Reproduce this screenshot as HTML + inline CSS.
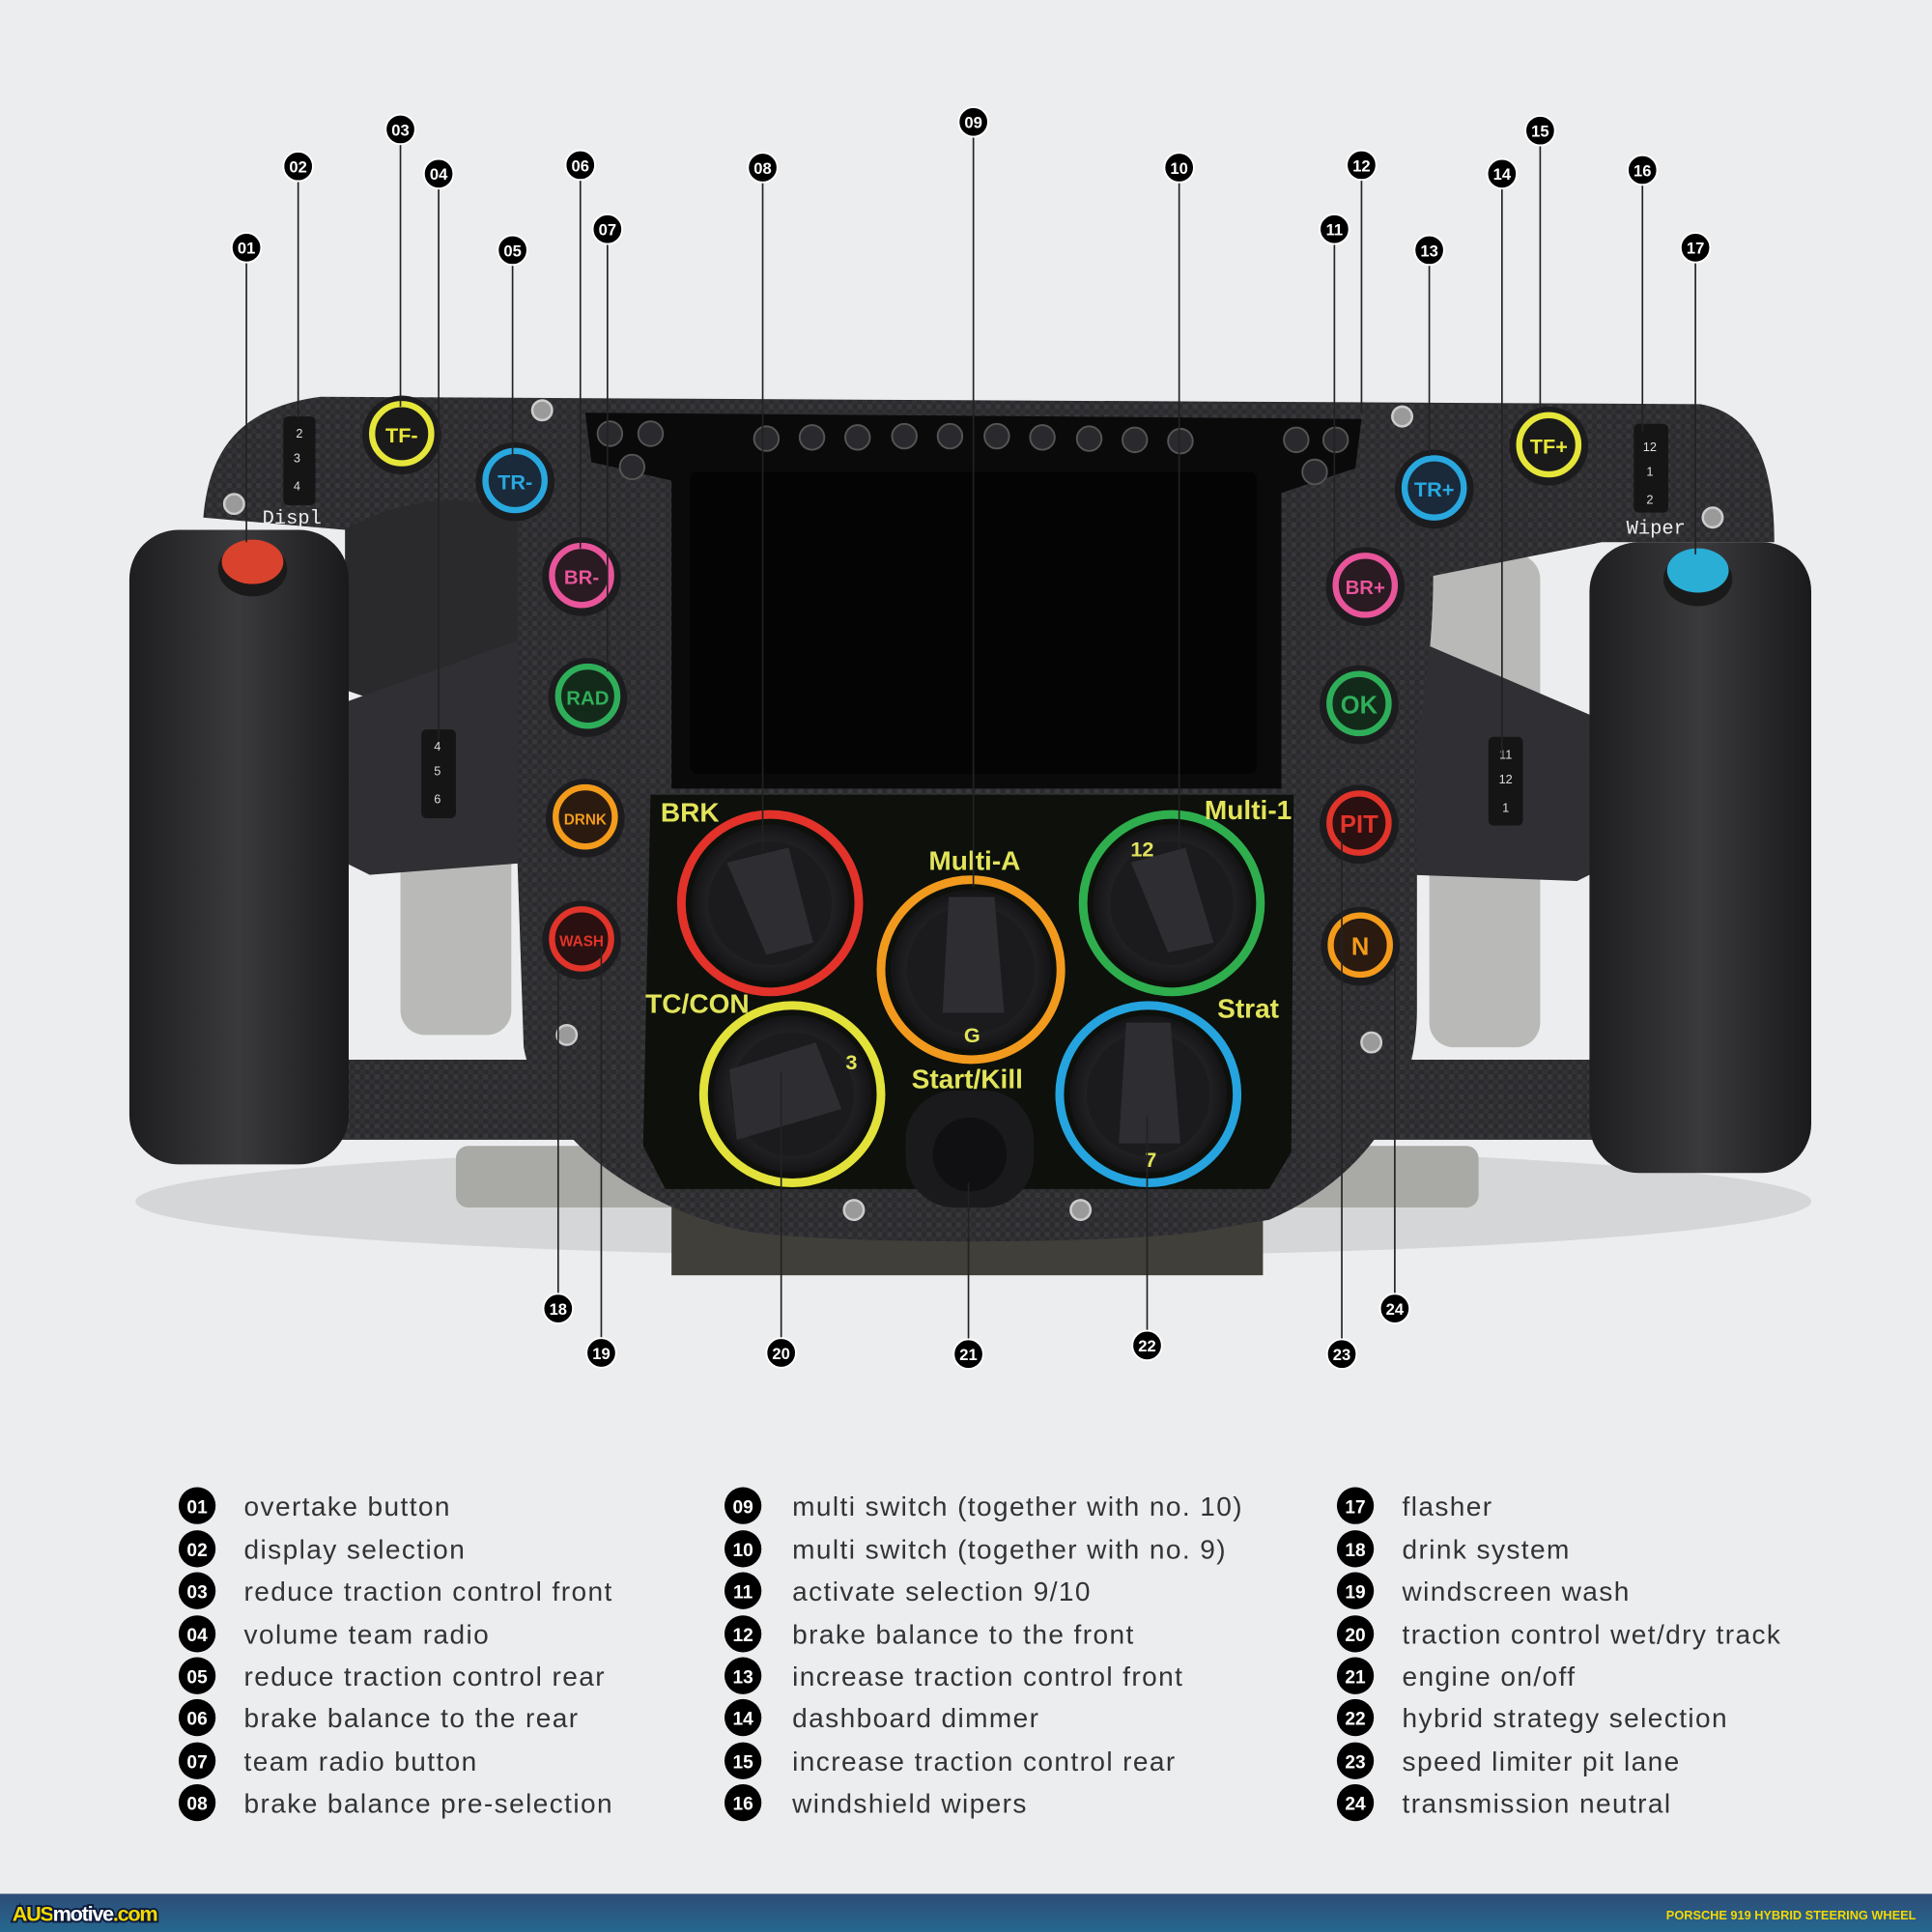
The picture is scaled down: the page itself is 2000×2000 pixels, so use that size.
<!DOCTYPE html>
<html><head><meta charset="utf-8"><style>
html,body{margin:0;padding:0;background:#ecedef}
svg{display:block}
</style></head><body>
<svg width="2000" height="2000" viewBox="0 0 1568 1568" xmlns="http://www.w3.org/2000/svg" font-family="'Liberation Sans', sans-serif">
<defs>
<pattern id="cf" width="8" height="8" patternUnits="userSpaceOnUse">
<rect width="8" height="8" fill="#2b2b2e"/><rect width="4" height="4" fill="#38383c"/><rect x="4" y="4" width="4" height="4" fill="#323236"/>
</pattern>
<linearGradient id="grip" x1="0" x2="1"><stop offset="0" stop-color="#1e1e20"/><stop offset="0.5" stop-color="#3a3a3d"/><stop offset="1" stop-color="#1a1a1c"/></linearGradient>
<linearGradient id="bar" x1="0" y1="0" x2="0" y2="1"><stop offset="0" stop-color="#2d4c77"/><stop offset="1" stop-color="#26688f"/></linearGradient>
<radialGradient id="knob"><stop offset="0" stop-color="#303034"/><stop offset="0.8" stop-color="#202023"/><stop offset="1" stop-color="#141416"/></radialGradient>
</defs>
<rect width="1568" height="1568" fill="#ecedef"/>
<ellipse cx="790" cy="975" rx="680" ry="45" fill="#d5d6d8"/>
<rect x="325" y="440" width="90" height="400" rx="20" fill="#b9bab7"/>
<rect x="1160" y="450" width="90" height="400" rx="20" fill="#b9bab7"/>
<rect x="370" y="930" width="830" height="50" rx="10" fill="#a9aaa5"/>
<rect x="545" y="960" width="480" height="75" fill="#403f3a"/>
<path d="M165,420 C170,360 200,330 260,322 L1380,328 C1420,335 1440,370 1440,440 L1300,440 L1150,470 L430,470 L280,430 Z" fill="url(#cf)"/>
<path d="M280,430 C330,400 420,390 440,450 L440,560 L310,570 L280,560 Z" fill="#2a2a2d"/>
<path d="M280,570 L420,520 L430,700 L300,710 L280,700 Z" fill="#303034"/>
<path d="M1290,580 L1150,520 L1145,710 L1280,715 L1300,705 Z" fill="#303034"/>
<path d="M270,860 L1300,860 L1300,925 L270,925 Z" fill="url(#cf)"/>
<path d="M420,340 L1150,345 C1165,400 1170,500 1150,600 L1150,820 C1150,900 1100,960 1030,990 L970,1000 C900,1010 680,1010 610,1000 C530,985 440,930 425,850 L420,700 Z" fill="url(#cf)"/>
<path d="M475,335 L1105,340 L1100,380 L1040,400 L1040,640 L545,640 L545,390 L480,375 Z" fill="#0a0a0b"/>
<rect x="560" y="383" width="460" height="245" rx="6" fill="#040404"/>
<g fill="#2a2a2e" stroke="#555" stroke-width="1.5">
<circle cx="495" cy="352" r="10"/><circle cx="528" cy="352" r="10"/><circle cx="513" cy="379" r="10"/>
<circle cx="622" cy="356" r="10"/><circle cx="659" cy="355" r="10"/><circle cx="696" cy="355" r="10"/><circle cx="734" cy="354" r="10"/><circle cx="771" cy="354" r="10"/><circle cx="809" cy="354" r="10"/><circle cx="846" cy="355" r="10"/><circle cx="884" cy="356" r="10"/><circle cx="921" cy="357" r="10"/><circle cx="958" cy="358" r="10"/>
<circle cx="1052" cy="357" r="10"/><circle cx="1084" cy="357" r="10"/><circle cx="1067" cy="383" r="10"/>
</g>
<path d="M528,645 L1050,645 L1048,935 L1030,965 L540,965 L522,930 Z" fill="#0d100b"/>
<rect x="105" y="430" width="178" height="515" rx="40" fill="url(#grip)"/>
<rect x="1290" y="440" width="180" height="512" rx="40" fill="url(#grip)"/>
<ellipse cx="205" cy="462" rx="28" ry="22" fill="#1a1a1a"/>
<ellipse cx="205" cy="456" rx="25" ry="18" fill="#d9422c"/>
<ellipse cx="1378" cy="470" rx="28" ry="22" fill="#1a1a1a"/>
<ellipse cx="1378" cy="463" rx="25" ry="18" fill="#2aaed6"/>
<g font-size="10" fill="#ddd" text-anchor="middle">
<rect x="230" y="338" width="26" height="72" rx="4" fill="#151515"/><text x="243" y="355">2</text><text x="241" y="375">3</text><text x="241" y="398">4</text>
<rect x="342" y="592" width="28" height="72" rx="4" fill="#151515"/><text x="355" y="609">4</text><text x="355" y="629">5</text><text x="355" y="652">6</text>
<rect x="1208" y="598" width="28" height="72" rx="4" fill="#151515"/><text x="1222" y="616">11</text><text x="1222" y="636">12</text><text x="1222" y="659">1</text>
<rect x="1326" y="344" width="28" height="72" rx="4" fill="#151515"/><text x="1339" y="366">12</text><text x="1339" y="386">1</text><text x="1339" y="409">2</text>
</g>
<text x="213" y="425" font-family="'Liberation Mono',monospace" font-size="16" fill="#eee">Displ</text>
<text x="1320" y="433" font-family="'Liberation Mono',monospace" font-size="16" fill="#eee">Wiper</text>
<g fill="#9a9a9a" stroke="#ccc" stroke-width="2">
<circle cx="440" cy="333" r="8"/><circle cx="190" cy="409" r="8"/><circle cx="1138" cy="338" r="8"/><circle cx="1390" cy="420" r="8"/>
<circle cx="460" cy="840" r="8"/><circle cx="1113" cy="846" r="8"/><circle cx="693" cy="982" r="8"/><circle cx="877" cy="982" r="8"/>
</g>
<g font-weight="bold" text-anchor="middle">
<g><circle cx="326" cy="353" r="32" fill="#1c1c1e"/><circle cx="326" cy="352" r="24" fill="#1a1a1a" stroke="#e6e63a" stroke-width="5"/><text x="326" y="359" font-size="17" fill="#e6e63a">TF-</text></g>
<g><circle cx="418" cy="391" r="32" fill="#1c1c1e"/><circle cx="418" cy="390" r="24" fill="#1a2a3a" stroke="#29a8e0" stroke-width="5"/><text x="418" y="397" font-size="17" fill="#29a8e0">TR-</text></g>
<g><circle cx="472" cy="468" r="32" fill="#1c1c1e"/><circle cx="472" cy="467" r="24" fill="#2a1a22" stroke="#e8559a" stroke-width="5"/><text x="472" y="474" font-size="16" fill="#e8559a">BR-</text></g>
<g><circle cx="477" cy="566" r="32" fill="#1c1c1e"/><circle cx="477" cy="565" r="24" fill="#132a1a" stroke="#2fae5a" stroke-width="5"/><text x="477" y="572" font-size="16" fill="#2fae5a">RAD</text></g>
<g><circle cx="475" cy="664" r="32" fill="#1c1c1e"/><circle cx="475" cy="663" r="24" fill="#2a1a10" stroke="#f49b1c" stroke-width="5"/><text x="475" y="669" font-size="12" fill="#f49b1c">DRNK</text></g>
<g><circle cx="472" cy="763" r="32" fill="#1c1c1e"/><circle cx="472" cy="762" r="24" fill="#2a1010" stroke="#e1342a" stroke-width="5"/><text x="472" y="768" font-size="12" fill="#e1342a">WASH</text></g>
<g><circle cx="1257" cy="362" r="32" fill="#1c1c1e"/><circle cx="1257" cy="361" r="24" fill="#1a1a1a" stroke="#e6e63a" stroke-width="5"/><text x="1257" y="368" font-size="17" fill="#e6e63a">TF+</text></g>
<g><circle cx="1164" cy="397" r="32" fill="#1c1c1e"/><circle cx="1164" cy="396" r="24" fill="#1a2a3a" stroke="#29a8e0" stroke-width="5"/><text x="1164" y="403" font-size="17" fill="#29a8e0">TR+</text></g>
<g><circle cx="1108" cy="476" r="32" fill="#1c1c1e"/><circle cx="1108" cy="475" r="24" fill="#2a1a22" stroke="#e8559a" stroke-width="5"/><text x="1108" y="482" font-size="16" fill="#e8559a">BR+</text></g>
<g><circle cx="1103" cy="572" r="32" fill="#1c1c1e"/><circle cx="1103" cy="571" r="24" fill="#132a1a" stroke="#2fae5a" stroke-width="5"/><text x="1103" y="579" font-size="20" fill="#2fae5a">OK</text></g>
<g><circle cx="1103" cy="669" r="32" fill="#1c1c1e"/><circle cx="1103" cy="668" r="24" fill="#2a1010" stroke="#e1342a" stroke-width="5"/><text x="1103" y="676" font-size="20" fill="#e1342a">PIT</text></g>
<g><circle cx="1104" cy="768" r="32" fill="#1c1c1e"/><circle cx="1104" cy="767" r="24" fill="#2a1a10" stroke="#f49b1c" stroke-width="5"/><text x="1104" y="775" font-size="20" fill="#f49b1c">N</text></g>
</g>
<g>
<circle cx="625" cy="733" r="72" fill="none" stroke="#e2322a" stroke-width="7"/><circle cx="625" cy="733" r="64" fill="url(#knob)"/><circle cx="625" cy="733" r="50" fill="#1b1b1e"/><path d="M590,700 L640,688 L660,765 L622,775 Z" fill="#2e2e32"/>
<circle cx="788" cy="787" r="73" fill="none" stroke="#f29a1e" stroke-width="7"/><circle cx="788" cy="787" r="65" fill="url(#knob)"/><circle cx="788" cy="787" r="52" fill="#1b1b1e"/><path d="M770,728 L807,728 L815,822 L765,822 Z" fill="#2e2e32"/>
<circle cx="951" cy="733" r="72" fill="none" stroke="#2fae4e" stroke-width="7"/><circle cx="951" cy="733" r="64" fill="url(#knob)"/><circle cx="951" cy="733" r="50" fill="#1b1b1e"/><path d="M918,700 L962,688 L985,765 L948,773 Z" fill="#2e2e32"/>
<circle cx="643" cy="888" r="72" fill="none" stroke="#e3e23a" stroke-width="7"/><circle cx="643" cy="888" r="64" fill="url(#knob)"/><circle cx="643" cy="888" r="50" fill="#1b1b1e"/><path d="M592,868 L662,846 L683,900 L598,925 Z" fill="#2e2e32"/>
<circle cx="932" cy="888" r="72" fill="none" stroke="#25a4df" stroke-width="7"/><circle cx="932" cy="888" r="64" fill="url(#knob)"/><circle cx="932" cy="888" r="50" fill="#1b1b1e"/><path d="M914,830 L950,830 L958,928 L908,928 Z" fill="#2e2e32"/>
<rect x="735" y="885" width="104" height="95" rx="40" fill="#1a1a1c"/><circle cx="787" cy="937" r="30" fill="#101012"/>
</g>
<g font-weight="bold" fill="#e2e45a" text-anchor="middle" font-size="22">
<text x="560" y="667">BRK</text><text x="791" y="706">Multi-A</text><text x="1013" y="665">Multi-1</text><text x="566" y="822">TC/CON</text><text x="1013" y="826">Strat</text><text x="785" y="883">Start/Kill</text>
<text x="789" y="846" font-size="17">G</text><text x="691" y="868" font-size="17">3</text><text x="934" y="947" font-size="17">7</text><text x="927" y="695" font-size="17">12</text>
</g>
<g stroke="#222" stroke-width="1.3">
<line x1="200" y1="212" x2="200" y2="440"/><line x1="242" y1="146" x2="242" y2="340"/><line x1="325" y1="116" x2="325" y2="330"/>
<line x1="356" y1="152" x2="356" y2="600"/><line x1="416" y1="214" x2="416" y2="370"/><line x1="471" y1="145" x2="471" y2="445"/>
<line x1="493" y1="197" x2="493" y2="545"/><line x1="619" y1="147" x2="619" y2="690"/><line x1="790" y1="110" x2="790" y2="720"/>
<line x1="957" y1="147" x2="957" y2="690"/><line x1="1083" y1="197" x2="1083" y2="460"/><line x1="1105" y1="145" x2="1105" y2="335"/>
<line x1="1160" y1="214" x2="1160" y2="370"/><line x1="1219" y1="152" x2="1219" y2="615"/><line x1="1250" y1="117" x2="1250" y2="335"/>
<line x1="1333" y1="149" x2="1333" y2="350"/><line x1="1376" y1="212" x2="1376" y2="450"/>
<line x1="453" y1="1051" x2="453" y2="785"/><line x1="488" y1="1087" x2="488" y2="770"/><line x1="634" y1="1087" x2="634" y2="870"/>
<line x1="786" y1="1088" x2="786" y2="960"/><line x1="931" y1="1081" x2="931" y2="905"/><line x1="1089" y1="1088" x2="1089" y2="680"/>
<line x1="1132" y1="1051" x2="1132" y2="780"/>
</g>
<g font-weight="bold" font-size="13" text-anchor="middle" fill="#fff">
<g fill="#000" stroke="#fff" stroke-width="1.5">
<circle cx="200" cy="201" r="12"/><circle cx="242" cy="135" r="12"/><circle cx="325" cy="105" r="12"/><circle cx="356" cy="141" r="12"/><circle cx="416" cy="203" r="12"/><circle cx="471" cy="134" r="12"/><circle cx="493" cy="186" r="12"/><circle cx="619" cy="136" r="12"/><circle cx="790" cy="99" r="12"/><circle cx="957" cy="136" r="12"/><circle cx="1083" cy="186" r="12"/><circle cx="1105" cy="134" r="12"/><circle cx="1160" cy="203" r="12"/><circle cx="1219" cy="141" r="12"/><circle cx="1250" cy="106" r="12"/><circle cx="1333" cy="138" r="12"/><circle cx="1376" cy="201" r="12"/>
<circle cx="453" cy="1062" r="12"/><circle cx="488" cy="1098" r="12"/><circle cx="634" cy="1098" r="12"/><circle cx="786" cy="1099" r="12"/><circle cx="931" cy="1092" r="12"/><circle cx="1089" cy="1099" r="12"/><circle cx="1132" cy="1062" r="12"/>
</g>
<text x="200" y="206">01</text><text x="242" y="140">02</text><text x="325" y="110">03</text><text x="356" y="146">04</text><text x="416" y="208">05</text><text x="471" y="139">06</text><text x="493" y="191">07</text><text x="619" y="141">08</text><text x="790" y="104">09</text><text x="957" y="141">10</text><text x="1083" y="191">11</text><text x="1105" y="139">12</text><text x="1160" y="208">13</text><text x="1219" y="146">14</text><text x="1250" y="111">15</text><text x="1333" y="143">16</text><text x="1376" y="206">17</text>
<text x="453" y="1067">18</text><text x="488" y="1103">19</text><text x="634" y="1103">20</text><text x="786" y="1104">21</text><text x="931" y="1097">22</text><text x="1089" y="1104">23</text><text x="1132" y="1067">24</text>
</g>
<g font-weight="bold" font-size="15" text-anchor="middle" fill="#fff">
<g fill="#000">
<circle cx="160" cy="1222" r="15"/><circle cx="160" cy="1257" r="15"/><circle cx="160" cy="1291" r="15"/><circle cx="160" cy="1326" r="15"/><circle cx="160" cy="1360" r="15"/><circle cx="160" cy="1394" r="15"/><circle cx="160" cy="1429" r="15"/><circle cx="160" cy="1463" r="15"/>
<circle cx="603" cy="1222" r="15"/><circle cx="603" cy="1257" r="15"/><circle cx="603" cy="1291" r="15"/><circle cx="603" cy="1326" r="15"/><circle cx="603" cy="1360" r="15"/><circle cx="603" cy="1394" r="15"/><circle cx="603" cy="1429" r="15"/><circle cx="603" cy="1463" r="15"/>
<circle cx="1100" cy="1222" r="15"/><circle cx="1100" cy="1257" r="15"/><circle cx="1100" cy="1291" r="15"/><circle cx="1100" cy="1326" r="15"/><circle cx="1100" cy="1360" r="15"/><circle cx="1100" cy="1394" r="15"/><circle cx="1100" cy="1429" r="15"/><circle cx="1100" cy="1463" r="15"/>
</g>
<text x="160" y="1228">01</text><text x="160" y="1263">02</text><text x="160" y="1297">03</text><text x="160" y="1332">04</text><text x="160" y="1366">05</text><text x="160" y="1400">06</text><text x="160" y="1435">07</text><text x="160" y="1469">08</text>
<text x="603" y="1228">09</text><text x="603" y="1263">10</text><text x="603" y="1297">11</text><text x="603" y="1332">12</text><text x="603" y="1366">13</text><text x="603" y="1400">14</text><text x="603" y="1435">15</text><text x="603" y="1469">16</text>
<text x="1100" y="1228">17</text><text x="1100" y="1263">18</text><text x="1100" y="1297">19</text><text x="1100" y="1332">20</text><text x="1100" y="1366">21</text><text x="1100" y="1400">22</text><text x="1100" y="1435">23</text><text x="1100" y="1469">24</text>
</g>
<g font-size="22" fill="#333" letter-spacing="1.1">
<text x="198" y="1230">overtake button</text><text x="198" y="1265">display selection</text><text x="198" y="1299">reduce traction control front</text><text x="198" y="1334">volume team radio</text><text x="198" y="1368">reduce traction control rear</text><text x="198" y="1402">brake balance to the rear</text><text x="198" y="1437">team radio button</text><text x="198" y="1471">brake balance pre-selection</text>
<text x="643" y="1230">multi switch (together with no. 10)</text><text x="643" y="1265">multi switch (together with no. 9)</text><text x="643" y="1299">activate selection 9/10</text><text x="643" y="1334">brake balance to the front</text><text x="643" y="1368">increase traction control front</text><text x="643" y="1402">dashboard dimmer</text><text x="643" y="1437">increase traction control rear</text><text x="643" y="1471">windshield wipers</text>
<text x="1138" y="1230">flasher</text><text x="1138" y="1265">drink system</text><text x="1138" y="1299">windscreen wash</text><text x="1138" y="1334">traction control wet/dry track</text><text x="1138" y="1368">engine on/off</text><text x="1138" y="1402">hybrid strategy selection</text><text x="1138" y="1437">speed limiter pit lane</text><text x="1138" y="1471">transmission neutral</text>
</g>
<rect x="0" y="1537" width="1568" height="31" fill="url(#bar)"/>
<text x="10" y="1559" font-size="17" font-weight="bold" fill="#f5d800" stroke="#0b1a3a" stroke-width="3" paint-order="stroke" letter-spacing="-1">AUS<tspan fill="#fff">motive</tspan>.com</text>
<text x="1555" y="1558" font-size="10" font-weight="bold" fill="#f5d800" text-anchor="end">PORSCHE 919 HYBRID STEERING WHEEL</text>
</svg>
</body></html>
